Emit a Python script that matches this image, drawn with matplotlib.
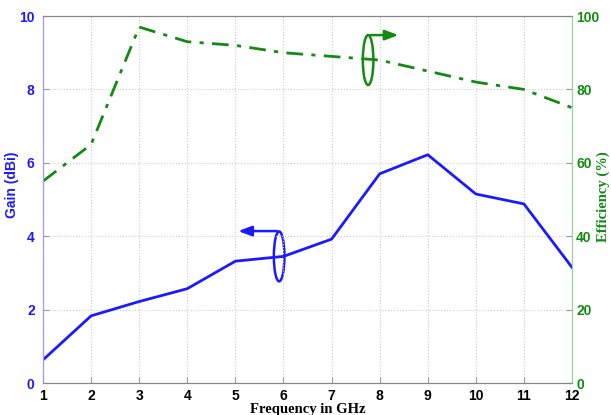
import matplotlib.pyplot as plt
from matplotlib.patches import Ellipse

freq = [1, 2, 3, 4, 5, 6, 7, 8, 9, 10, 11, 12]
gain = [0.63, 1.83, 2.22, 2.57, 3.32, 3.45, 3.92, 5.70, 6.22, 5.15, 4.88, 3.15]
efficiency = [55, 65, 97, 93, 92, 90, 89, 88, 85, 82, 80, 75]

blue = '#1a1aff'
green = '#138a13'

plt.rcParams['font.family'] = ['Liberation Sans', 'DejaVu Sans']

fig = plt.figure(figsize=(6.11, 4.15), dpi=100)
ax = fig.add_axes([0.0704, 0.0771, 0.8658, 0.8843])
ax2 = ax.twinx()

ax.plot(freq, gain, color=blue, lw=2)
ax2.plot(freq, efficiency, color=green, lw=2, ls=(0, (6, 3, 1.5, 3)))

ax.set_xlim(1, 12)
ax.set_ylim(0, 10)
ax2.set_ylim(0, 100)
ax.set_xticks(freq)
ax.set_yticks([0, 2, 4, 6, 8, 10])
ax2.set_yticks([0, 20, 40, 60, 80, 100])

ax.grid(True, ls=':', color='#cccccc', lw=0.8)

for a in (ax, ax2):
    a.tick_params(direction='in', length=4, color='#999999')
    for s in a.spines.values():
        s.set_color('#888888')
for a in (ax, ax2):
    a.spines['left'].set_color('#9a9aff')
    a.spines['right'].set_color('#9ad49a')

for t in ax.get_xticklabels():
    t.set_fontweight('bold'); t.set_fontsize(10)
for t in ax.get_yticklabels():
    t.set_fontweight('bold'); t.set_fontsize(10); t.set_color(blue)
for t in ax2.get_yticklabels():
    t.set_fontweight('bold'); t.set_fontsize(10); t.set_color(green)
ax.tick_params(axis='x', pad=4)
ax.tick_params(axis='y', pad=6)
ax2.tick_params(axis='y', pad=3)

serif = ['Liberation Serif', 'DejaVu Serif']
ax.set_xlabel('Frequency in GHz', fontsize=10.5, fontweight='bold', family=serif, labelpad=0)
ax.set_ylabel('Gain (dBi)', fontsize=10, fontweight='bold', color=blue, va='center')
ax.yaxis.set_label_coords(-0.058, 0.54)
ax2.set_ylabel('Efficiency (%)', fontsize=10.5, fontweight='bold', family=serif, color=green, va='center')
ax2.yaxis.set_label_coords(1.059, 0.507)

# annotation ellipses and arrows
ax.add_patch(Ellipse((5.91, 3.45), 0.22, 1.36, fill=False, ec=blue, lw=1.8))
ax.annotate('', xy=(5.0, 4.14), xytext=(5.92, 4.14),
            arrowprops=dict(arrowstyle='-|>,head_length=0.8,head_width=0.3', color=blue, lw=1.8))
ax.add_patch(Ellipse((7.76, 8.8), 0.22, 1.36, fill=False, ec=green, lw=1.8))
ax.annotate('', xy=(8.45, 9.48), xytext=(7.75, 9.48),
            arrowprops=dict(arrowstyle='-|>,head_length=0.8,head_width=0.3', color=green, lw=1.8))

fig.savefig('out.png', dpi=100)
